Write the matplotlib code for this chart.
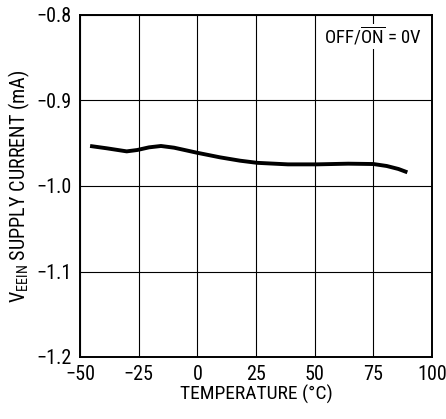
import matplotlib
matplotlib.use("Agg")
import matplotlib.pyplot as plt
from matplotlib import font_manager

# pick a condensed-looking sans if available
names = {f.name for f in font_manager.fontManager.ttflist}
fam = 'DejaVu Sans'
for cand in ['Liberation Sans Narrow', 'Roboto Condensed', 'Roboto']:
    if cand in names:
        fam = cand
        break
plt.rcParams['font.family'] = [fam, 'DejaVu Sans']
plt.rcParams['mathtext.fontset'] = 'custom'
plt.rcParams['mathtext.rm'] = fam

temp = [-45.7, -38.6, -30.1, -25.6, -20.6, -15.5, -9.9, -0.3, 9.7, 18.2, 25.5,
        38.6, 50.8, 64.3, 75.0, 80.7, 85.7, 89.5]
current = [-0.9532, -0.9559, -0.9595, -0.9579, -0.9548, -0.9532, -0.9552, -0.9610,
           -0.9665, -0.9704, -0.9729, -0.9747, -0.9747, -0.9739, -0.9743, -0.9766,
           -0.9801, -0.9840]

xticks = [-50, -25, 0, 25, 50, 75, 100]
yticks = [-1.2, -1.1, -1.0, -0.9, -0.8]

fig = plt.figure(figsize=(4.46, 4.19), dpi=100)
ax = fig.add_axes([80 / 446, 62 / 419, 352 / 446, 342 / 419])

ax.plot(temp, current, color='black', lw=2.8, solid_capstyle='butt', solid_joinstyle='round')

ax.set_xlim(-50, 100)
ax.set_ylim(-1.2, -0.8)
ax.set_xticks(xticks)
ax.set_yticks(yticks)
ax.set_xticklabels(['\u221250', '\u221225', '0', '25', '50', '75', '100'])
ax.set_yticklabels(['\u22121.2', '\u22121.1', '\u22121.0', '\u22120.9', '\u22120.8'])
ax.tick_params(length=0, labelsize=14.5, pad=6)
ax.grid(True, color='black', lw=0.8)
for s in ax.spines.values():
    s.set_linewidth(1.4)

ax.set_xlabel('TEMPERATURE (\u00b0C)', fontsize=14, labelpad=0)
ax.set_ylabel('V$_{\\mathrm{EEIN}}$ SUPPLY CURRENT (mA)', fontsize=14.5, labelpad=3)

ax.text(96, -0.825, 'OFF/$\\overline{\\mathrm{ON}}$ = 0V', fontsize=13.5, ha='right', va='center',
        bbox=dict(facecolor='white', edgecolor='none', pad=1))

fig.savefig('out.png', dpi=100)
